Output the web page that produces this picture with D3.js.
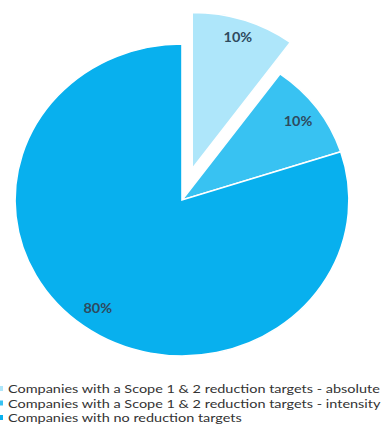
<!DOCTYPE html>
<html>
<head>
	<meta charset="UTF-8">
	<script src="https://d3js.org/d3.v7.min.js"></script>
	<style>
		body { margin: 0; background: #fff; }
	</style>
</head>
<body>
	<svg width="382" height="430"></svg>
	<script>
		// chart data
		var categories = [
			"Companies with a Scope 1 & 2 reduction targets - absolute",
			"Companies with a Scope 1 & 2 reduction targets - intensity",
			"Companies with no reduction targets"
		];
		var values = [10, 10, 80];
		var labels = ["10%", "10%", "80%"];
		var colors = ["#aee6fa", "#38c2f2", "#08b0ee"];
		var exploded = [true, false, false];

		var cx = 182, cy = 200;
		var radius = 156;
		var stretchX = 1.07;
		var explode = 33;

		const svg = d3.select("svg");

		const pie = d3.pie().sort(null).value(d => d);
		const arcs = pie(values);
		const arc = d3.arc().innerRadius(0).outerRadius(radius);

		const g = svg.append("g")
			.attr("transform", "translate(" + cx + "," + cy + ") scale(" + stretchX + ",1)");

		g.selectAll(".slice")
			.data(arcs)
			.enter()
			.append("path")
			.attr("class", "slice")
			.attr("d", arc)
			.attr("fill", (d, i) => colors[i])
			.attr("stroke", "#fff")
			.attr("stroke-width", 1.5)
			.attr("transform", function (d, i) {
				if (!exploded[i]) return null;
				var a = (d.startAngle + d.endAngle) / 2;
				return "translate(" + (Math.sin(a) * explode / stretchX) + "," + (-Math.cos(a) * explode) + ")";
			});

		// percentage labels
		var labelRadius = [138, 134, 134];
		g.selectAll(".lbl")
			.data(arcs)
			.enter()
			.append("text")
			.attr("class", "lbl")
			.attr("transform", function (d, i) {
				var a = (d.startAngle + d.endAngle) / 2;
				var r = labelRadius[i];
				var ox = 0, oy = 0;
				if (exploded[i]) { ox = Math.sin(a) * explode / stretchX; oy = -Math.cos(a) * explode; }
				return "translate(" + (Math.sin(a) * r + ox) + "," + (-Math.cos(a) * r + oy) + ")";
			})
			.attr("text-anchor", "middle")
			.attr("dy", "0.35em")
			.attr("font-family", "Lato, sans-serif")
			.attr("font-size", "13.5px")
			.attr("font-weight", "bold")
			.attr("fill", "#2e4a5e")
			.text((d, i) => labels[i]);

		// legend
		const legend = svg.append("g");
		const rows = legend.selectAll(".leg")
			.data(categories)
			.enter()
			.append("g")
			.attr("class", "leg")
			.attr("transform", (d, i) => "translate(0," + (389 + i * 14.5) + ")");

		rows.append("rect")
			.attr("x", 0)
			.attr("y", -3)
			.attr("width", 3)
			.attr("height", 5)
			.attr("fill", (d, i) => colors[i]);

		const legText = rows.append("text")
			.attr("dy", "0.35em")
			.attr("font-family", "Lato, sans-serif")
			.attr("font-size", "11.8px")
			.attr("fill", "#333")
			.text(d => d);

		// stretch the legend text so the longest line spans to the right edge
		var w0 = legText.node().getComputedTextLength();
		var sx = w0 > 0 ? 372 / w0 : 1;
		legText.attr("transform", "translate(8,0) scale(" + sx + ",1)");
	</script>
</body>
</html>
